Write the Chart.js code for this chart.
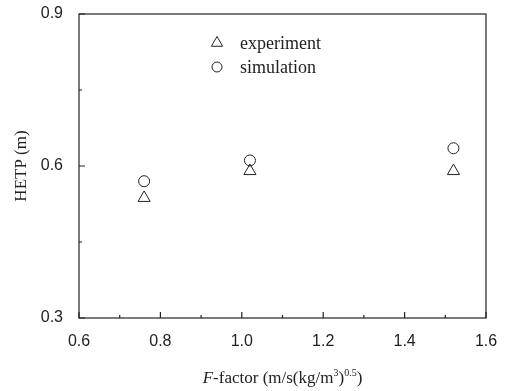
<!DOCTYPE html>
<html>
<head>
<meta charset="utf-8">
<script src="https://cdn.jsdelivr.net/npm/chart.js@4"></script>
<style>
  html, body { margin:0; padding:0; background:#fff; }
  #wrap { width:506px; height:391px; }
</style>
</head>
<body>
<div id="wrap"><canvas id="hetpChart" width="506" height="391"></canvas></div>
<script>
// data
const fFactor = [0.76, 1.02, 1.52];
const experiment = [0.537, 0.590, 0.590];
const simulation = [0.570, 0.611, 0.635];
const xTicks = [0.6, 0.8, 1.0, 1.2, 1.4, 1.6];
const yTicks = [0.3, 0.6, 0.9];
const seriesNames = ['experiment', 'simulation'];

const ink = '#222';
const serif = '"Liberation Serif", "Times New Roman", serif';
const sans = '"Liberation Sans", Arial, sans-serif';

function pts(ys){ return fFactor.map((x, i) => ({ x: x, y: ys[i] })); }

// frame, inward ticks, axis titles and legend
const decor = {
  id: 'decor',
  afterDraw(chart){
    const ctx = chart.ctx, a = chart.chartArea;
    const xs = chart.scales.x, ys = chart.scales.y;
    ctx.save();
    ctx.strokeStyle = ink; ctx.lineWidth = 1.2;
    ctx.strokeRect(a.left, a.top, a.right - a.left, a.bottom - a.top);
    ctx.beginPath();
    for(let v = 0.6; v <= 1.6001; v += 0.1){
      const px = xs.getPixelForValue(v);
      const major = Math.round(v * 10) % 2 === 0;
      ctx.moveTo(px, a.bottom); ctx.lineTo(px, a.bottom - (major ? 6 : 3));
    }
    for(let v = 0.3; v <= 0.9001; v += 0.15){
      const py = ys.getPixelForValue(v);
      const major = Math.abs((v / 0.3) - Math.round(v / 0.3)) < 1e-6;
      ctx.moveTo(a.left, py); ctx.lineTo(a.left + (major ? 6 : 3), py);
    }
    ctx.stroke();

    // y title
    ctx.fillStyle = ink;
    ctx.font = '17px ' + serif;
    ctx.textAlign = 'center'; ctx.textBaseline = 'middle';
    ctx.save();
    ctx.translate(22, (a.top + a.bottom) / 2);
    ctx.rotate(-Math.PI / 2);
    ctx.fillText('HETP (m)', 0, 0);
    ctx.restore();

    // x title with italic F and superscripts
    const parts = [
      { t: 'F', f: 'italic 17px ' + serif, dy: 0 },
      { t: '-factor (m/s(kg/m', f: '17px ' + serif, dy: 0 },
      { t: '3', f: '10px ' + serif, dy: -7 },
      { t: ')', f: '17px ' + serif, dy: 0 },
      { t: '0.5', f: '10px ' + serif, dy: -7 },
      { t: ')', f: '17px ' + serif, dy: 0 }
    ];
    let total = 0;
    parts.forEach(p => { ctx.font = p.f; p.w = ctx.measureText(p.t).width; total += p.w; });
    let cx = (a.left + a.right) / 2 - total / 2;
    const baseY = 383;
    ctx.textAlign = 'left'; ctx.textBaseline = 'alphabetic';
    parts.forEach(p => { ctx.font = p.f; ctx.fillText(p.t, cx, baseY + p.dy); cx += p.w; });

    // legend
    const styles = ['triangle', 'circle'];
    const radii = [6.5, 5];
    const rowY = [43, 67];
    ctx.font = '18px ' + serif;
    ctx.textBaseline = 'middle';
    seriesNames.forEach((name, i) => {
      ctx.strokeStyle = ink; ctx.lineWidth = 1; ctx.fillStyle = 'rgba(0,0,0,0)';
      Chart.helpers.drawPoint(ctx, { pointStyle: styles[i], radius: radii[i], borderWidth: 1 }, 217, rowY[i]);
      ctx.fillStyle = ink;
      ctx.fillText(name, 240, rowY[i] + 1);
    });
    ctx.restore();
  }
};

new Chart(document.getElementById('hetpChart').getContext('2d'), {
  type: 'scatter',
  data: {
    datasets: [
      { label: seriesNames[0], data: pts(experiment), pointStyle: 'triangle', pointRadius: 7,
        backgroundColor: 'rgba(0,0,0,0)', borderColor: ink, borderWidth: 1 },
      { label: seriesNames[1], data: pts(simulation), pointStyle: 'circle', pointRadius: 5.5,
        backgroundColor: 'rgba(0,0,0,0)', borderColor: ink, borderWidth: 1 }
    ]
  },
  options: {
    responsive: false,
    animation: false,
    layout: { padding: { left: 0, right: 20, top: 14, bottom: 0 } },
    plugins: { legend: { display: false }, tooltip: { enabled: false } },
    scales: {
      x: {
        type: 'linear', min: 0.6, max: 1.6,
        afterBuildTicks: s => { s.ticks = xTicks.map(v => ({ value: v })); },
        afterFit: s => { s.height = 73; s.paddingLeft = 0; s.paddingRight = 0; },
        grid: { display: false },
        border: { display: false },
        ticks: { color: ink, padding: 6, font: { family: sans, size: 16 },
          callback: v => Number(v).toFixed(1) }
      },
      y: {
        type: 'linear', min: 0.3, max: 0.9,
        afterBuildTicks: s => { s.ticks = yTicks.map(v => ({ value: v })); },
        afterFit: s => { s.width = 79; s.paddingTop = 0; s.paddingBottom = 0; },
        grid: { display: false },
        border: { display: false },
        ticks: { color: ink, padding: 8, font: { family: sans, size: 16 },
          callback: v => Number(v).toFixed(1) }
      }
    }
  },
  plugins: [decor]
});
</script>
</body>
</html>
